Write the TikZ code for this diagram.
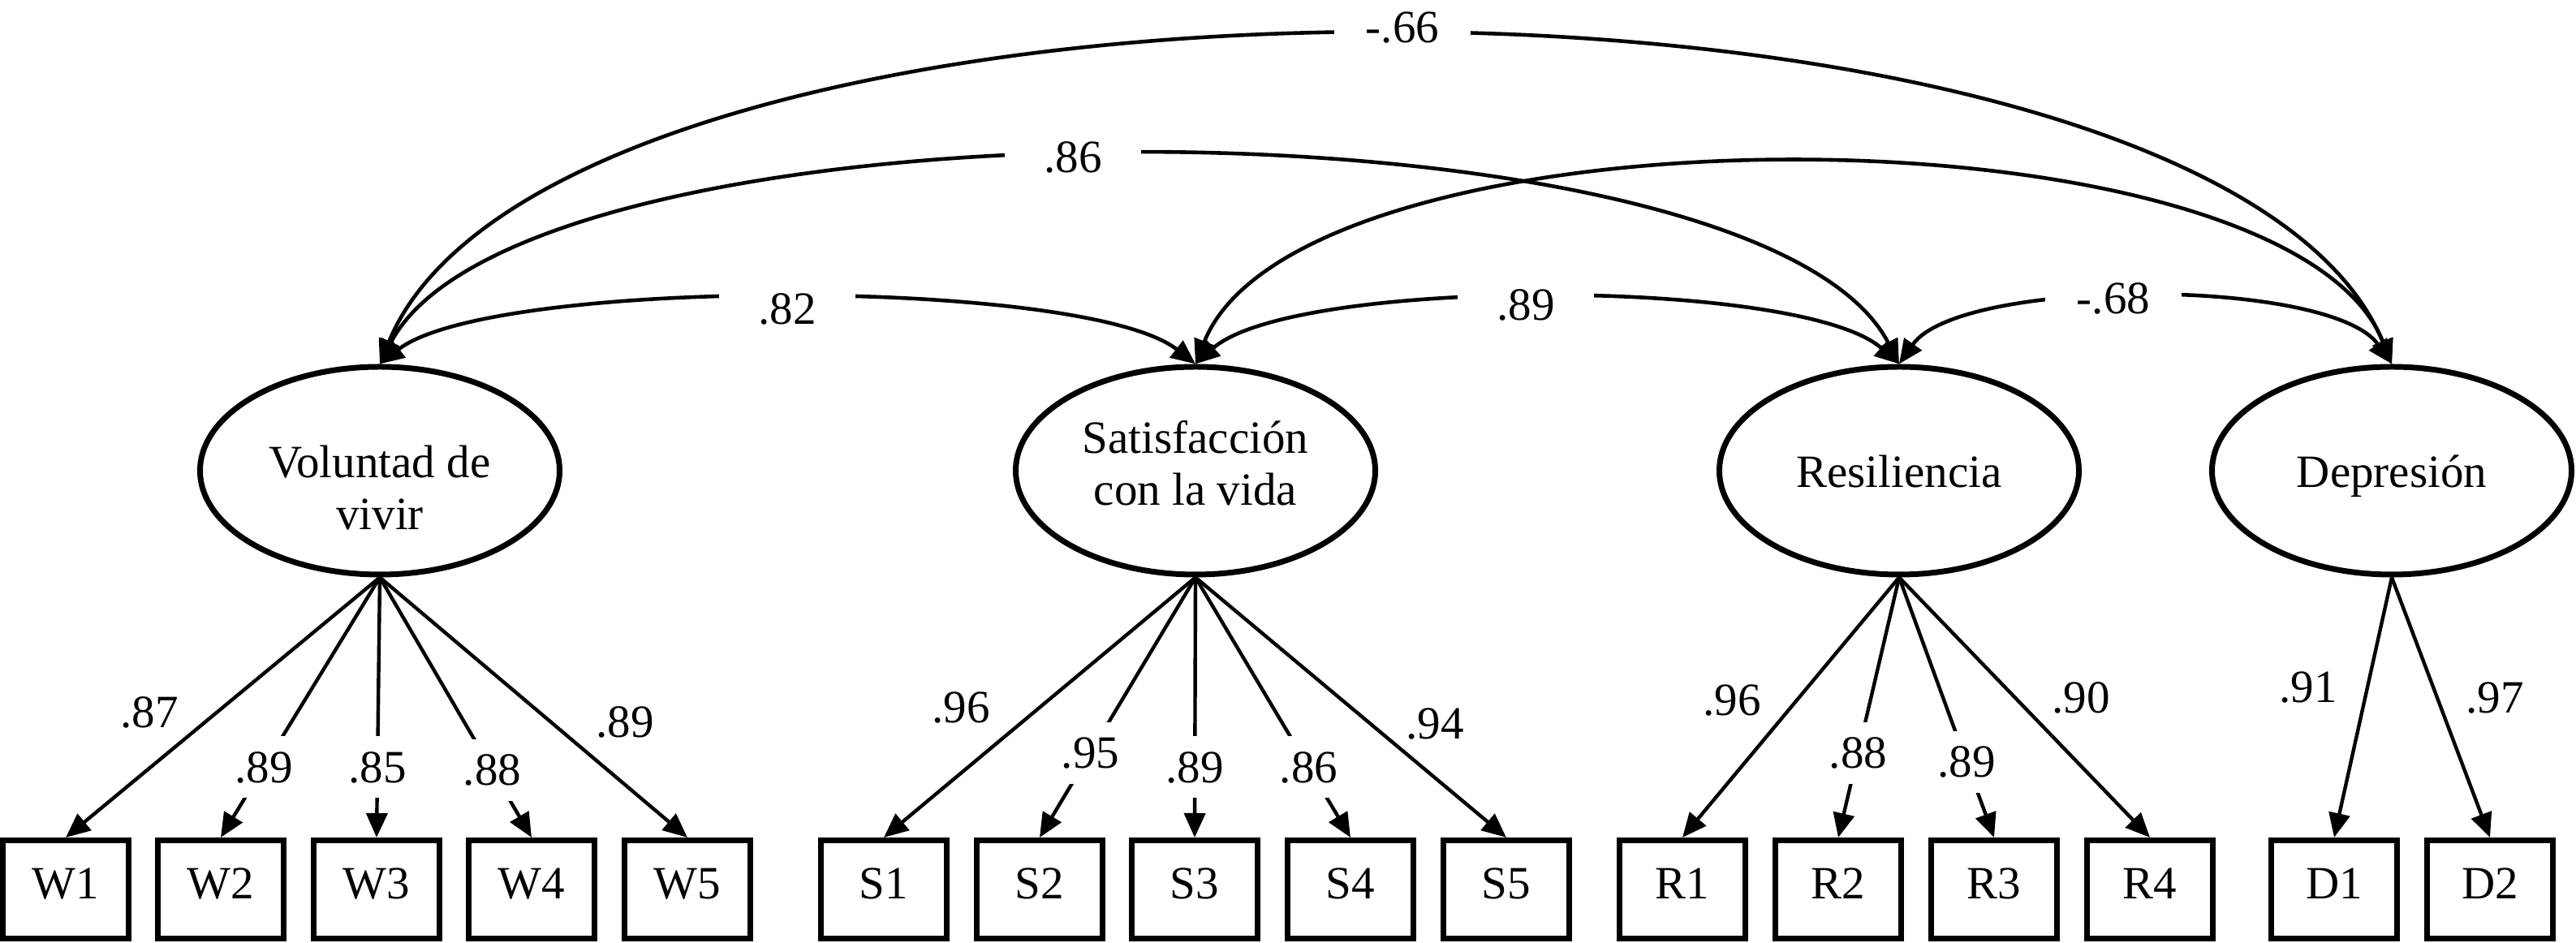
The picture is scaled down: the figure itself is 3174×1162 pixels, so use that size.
\documentclass[tikz,border=0pt]{standalone}
\usepackage{fontspec}
\setmainfont{Liberation Serif}
\usetikzlibrary{shapes.geometric,arrows.meta}
\tikzset{
  latent/.style={draw, ellipse, line width=1.75pt, minimum width=110.75pt, minimum height=64pt, inner sep=0pt},
  obs/.style={draw, rectangle, line width=1.75pt, minimum width=38.75pt, minimum height=30.25pt, inner sep=0pt, text height=9.5pt, text depth=3.5pt},
  load/.style={-{Triangle[length=7.5pt,width=6.5pt]}, line width=1.1pt},
  cov/.style={{Triangle[length=7.5pt,width=6.5pt]}-{Triangle[length=7.5pt,width=6.5pt]}, line width=1.15pt},
  lbl/.style={inner sep=0pt},
  inlbl/.style={fill=white, minimum height=19pt, inner sep=1pt},
  covlbl/.style={fill=white, minimum width=42pt, inner sep=1pt},
  ltext/.style={align=center, inner sep=0pt}
}
\begin{document}
\begin{tikzpicture}[x=0.25pt, y=-0.25pt, font=\fontsize{14.25pt}{16pt}\selectfont]
\useasboundingbox (0,0) rectangle (3174,1162);

% latent variables
\node[latent] (V) at (468,580) {};
\node[latent] (S) at (1473,580) {};
\node[latent] (R) at (2340,580) {};
\node[latent] (D) at (2947,580) {};
\node[ltext] (Vt) at (468,601.5) {Voluntad de\\vivir};
\node[ltext] (St) at (1473,570.5) {Satisfacción\\con la vida};
\node[ltext, anchor=base] (Rt) at (2340,601) {Resiliencia};
\node[ltext, anchor=base] (Dt) at (2947,601) {Depresión};

% observed variables
\node[obs] (W1) at (81,1096) {W1};
\node[obs] (W2) at (272,1096) {W2};
\node[obs] (W3) at (464,1096) {W3};
\node[obs] (W4) at (655,1096) {W4};
\node[obs] (W5) at (847,1096) {W5};
\node[obs] (S1) at (1089,1096) {S1};
\node[obs] (S2) at (1281,1096) {S2};
\node[obs] (S3) at (1472,1096) {S3};
\node[obs] (S4) at (1664,1096) {S4};
\node[obs] (S5) at (1856,1096) {S5};
\node[obs] (R1) at (2073,1096) {R1};
\node[obs] (R2) at (2265,1096) {R2};
\node[obs] (R3) at (2457,1096) {R3};
\node[obs] (R4) at (2649,1096) {R4};
\node[obs] (D1) at (2876,1096) {D1};
\node[obs] (D2) at (3068,1096) {D2};

% covariances
\draw[cov] (V.north) .. controls +(220,-537) and +(-220,-537) .. (D.north);
\draw[cov] (V.north) .. controls +(175,-340) and +(-175,-340) .. (R.north);
\draw[cov] (V.north) .. controls +(137,-107) and +(-137,-107) .. (S.north);
\draw[cov] (S.north) .. controls +(130,-327) and +(-130,-327) .. (D.north);
\draw[cov] (S.north) .. controls +(120,-107) and +(-120,-107) .. (R.north);
\draw[cov] (R.north) .. controls +(75,-107) and +(-75,-107) .. (D.north);
\node[covlbl] (cVD) at (1728,34) {-.66};
\node[covlbl] (cVR) at (1322,194) {.86};
\node[covlbl] (cVS) at (970,381) {.82};
\node[covlbl] (cSR) at (1880,376) {.89};
\node[covlbl] (cRD) at (2604,368) {-.68};

% loadings
\draw[load] (V.south) -- (W1.north);
\draw[load] (V.south) -- node[inlbl, pos=.73] (lW2) {.89} (W2.north);
\draw[load] (V.south) -- node[inlbl, pos=.73] (lW3) {.85} (W3.north);
\draw[load] (V.south) -- node[inlbl, pos=.74] (lW4) {.88} (W4.north);
\draw[load] (V.south) -- (W5.north);
\node[lbl] (lW1) at (184,878) {.87};
\node[lbl] (lW5) at (770,890) {.89};

\draw[load] (S.south) -- (S1.north);
\draw[load] (S.south) -- node[inlbl, pos=.675] (lS2) {.95} (S2.north);
\draw[load] (S.south) -- node[inlbl, pos=.73] (lS3) {.89} (S3.north);
\draw[load] (S.south) -- node[inlbl, pos=.73] (lS4) {.86} (S4.north);
\draw[load] (S.south) -- (S5.north);
\node[lbl] (lS1) at (1184,872) {.96};
\node[lbl] (lS5) at (1768,892) {.94};

\draw[load] (R.south) -- (R1.north);
\draw[load] (R.south) -- node[inlbl, pos=.675] (lR2) {.88} (R2.north);
\draw[load] (R.south) -- node[inlbl, pos=.71] (lR3) {.89} (R3.north);
\draw[load] (R.south) -- (R4.north);
\node[lbl] (lR1) at (2134,863) {.96};
\node[lbl] (lR4) at (2564,860) {.90};

\draw[load] (D.south) -- (D1.north);
\draw[load] (D.south) -- (D2.north);
\node[lbl] (lD1) at (2844,847) {.91};
\node[lbl] (lD2) at (3074,860) {.97};
\end{tikzpicture}
\end{document}
